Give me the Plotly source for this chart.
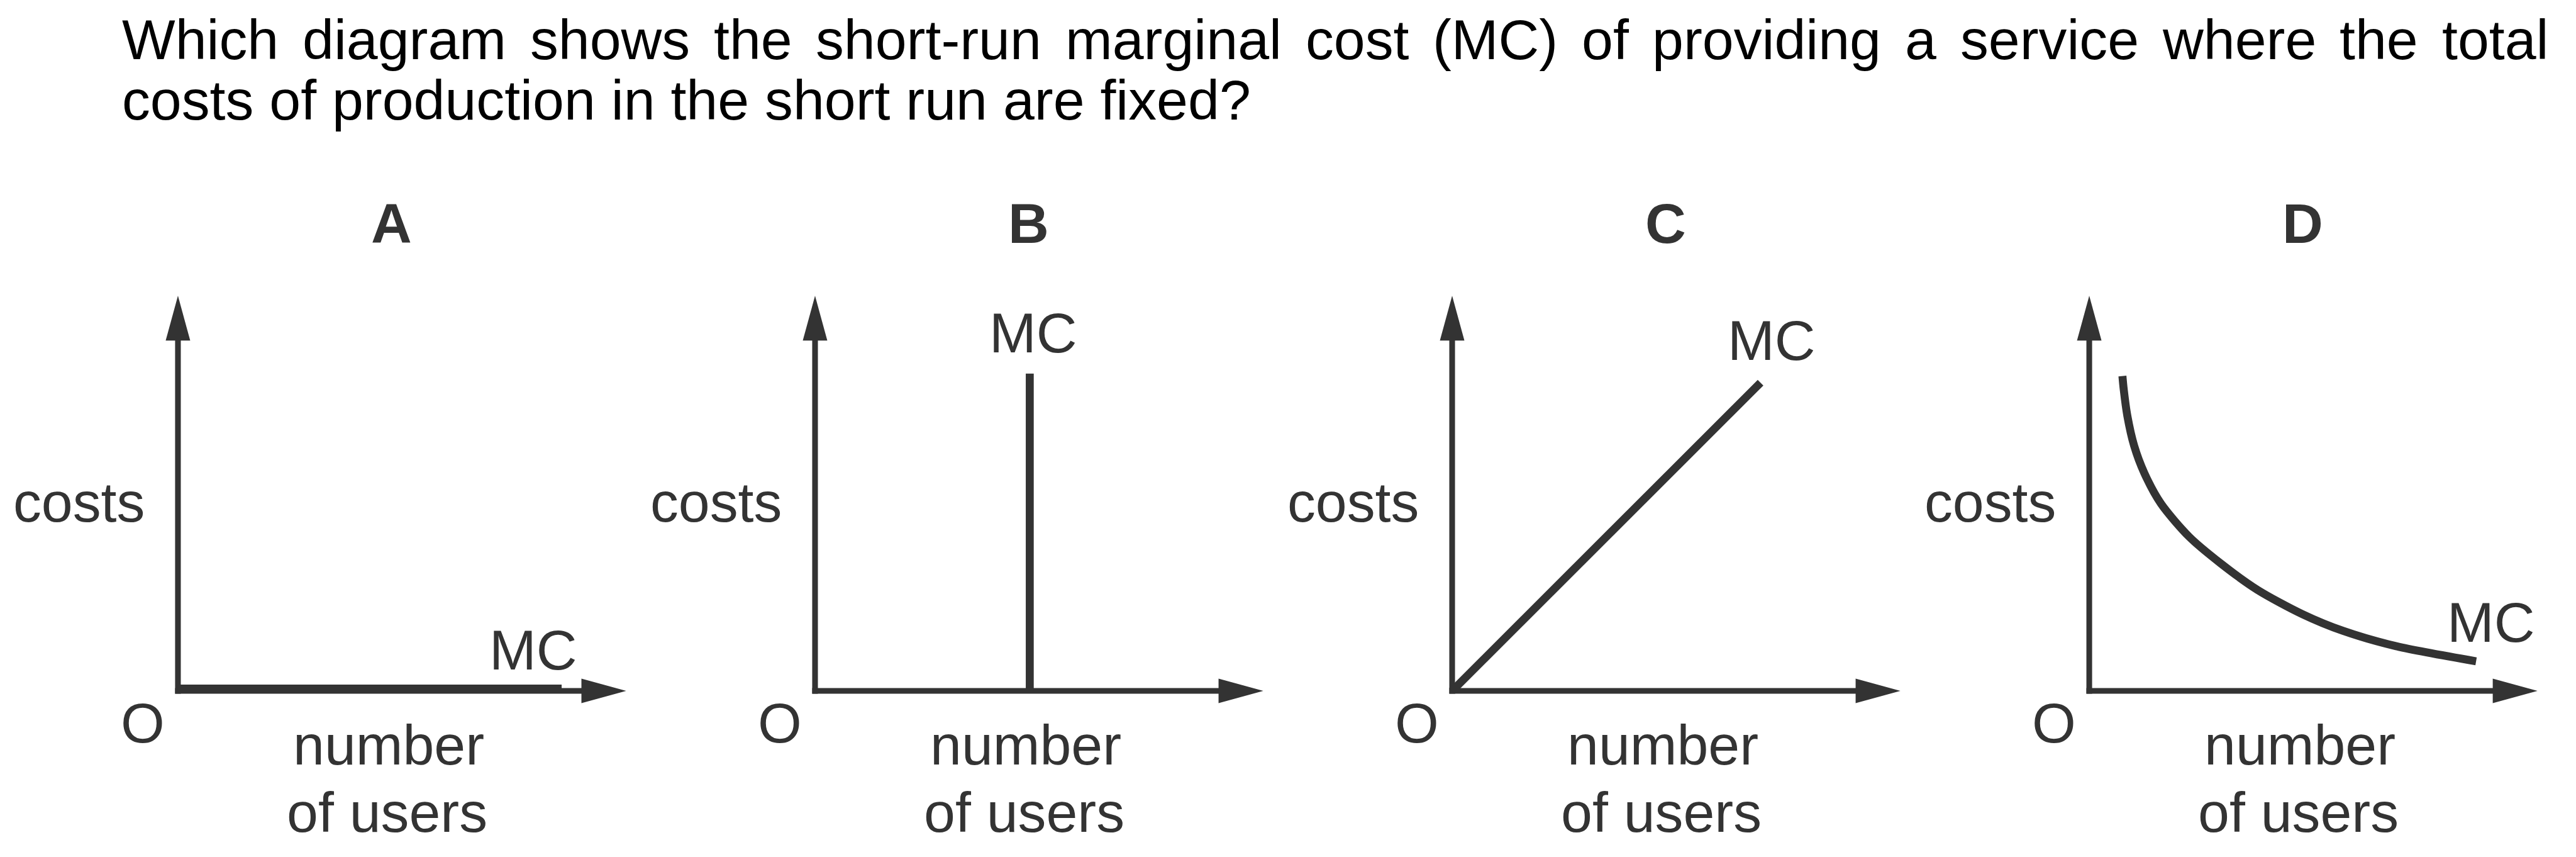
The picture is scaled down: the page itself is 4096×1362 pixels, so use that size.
import plotly.graph_objects as go

# ---------------- data (abstract units: each axis arrow is 10 units long) ----------------
panel_letters = ["A", "B", "C", "D"]
axis_len_x = 10.0
axis_len_y = 10.0

mc_a_x = [0.0, 8.56]
mc_a_y = [0.06, 0.06]

mc_b_x = [4.79, 4.79]
mc_b_y = [0.0, 8.03]

mc_c_x = [0.0, 6.88]
mc_c_y = [0.0, 7.80]

mc_d_x = [0.74, 0.77, 0.85, 1.00, 1.23, 1.60, 2.23, 2.93, 3.75, 4.76, 5.66, 6.85, 8.63]
mc_d_y = [7.97, 7.62, 6.96, 6.21, 5.51, 4.74, 3.90, 3.23, 2.56, 1.94, 1.52, 1.13, 0.75]

title_line1 = "Which diagram shows the short-run marginal cost (MC) of providing a service where the total"
title_line2 = "costs of production in the short run are fixed?"
y_label = "costs"
x_label_1 = "number"
x_label_2 = "of users"
origin_label = "O"
curve_label = "MC"

# ---------------- layout constants (reference pixel geometry) ----------------
S = 0.975
W_REF, H_REF = 4201, 1397
FIG_W, FIG_H = 4096, 1362
ORIGINS_X = [282, 1321, 2360, 3399]
ORIGIN_Y = 1118
UX = 73.1   # ref px per x unit
UY = 64.4   # ref px per y unit
INK = "#333333"
FONT = "Liberation Sans, Arial, Helvetica, sans-serif"
FS_REF = 92
FS = FS_REF * S
MID = 0.35 * FS_REF + 9  # baseline -> middle of text box

AXIS_LW_REF = 9.3
MC_LW_REF = 13
HEAD_LEN = 73
HEAD_HALF = 20

# text placement (ref px): offsets relative to panel origin, and baselines
LETTER_DX, LETTER_BASE = 348, 397
COSTS_DX, COSTS_BASE = -162, 852
O_DX, O_BASE = -57, 1212
NUM_DX, NUM_BASE = 344, 1247
USERS_DX, USERS_BASE = 341, 1357
MC_LABEL_POS = [(861, 1093), (1676, 576), (2881, 588), (4054, 1047)]

TITLE_X0, TITLE_X1 = 191, 4148
TITLE_BASE1, TITLE_BASE2 = 98, 196

ARIAL = {' ': 278, '(': 333, ')': 333, '-': 333, '?': 556, 'A': 667, 'C': 722, 'M': 833, 'W': 944,
         'a': 556, 'b': 556, 'c': 500, 'd': 556, 'e': 556, 'f': 278, 'g': 556, 'h': 556, 'i': 222,
         'j': 222, 'k': 500, 'l': 222, 'm': 833, 'n': 556, 'o': 556, 'p': 556, 'q': 556, 'r': 333,
         's': 500, 't': 278, 'u': 556, 'v': 500, 'w': 722, 'x': 500, 'y': 500, 'z': 500}


def text_w(s):
    return sum(ARIAL.get(c, 556) for c in s) / 1000.0 * FS_REF


xnames = ["x", "x2", "x3", "x4"]
mc_series = [(mc_a_x, mc_a_y), (mc_b_x, mc_b_y), (mc_c_x, mc_c_y), (mc_d_x, mc_d_y)]

fig = go.Figure()
annotations = []

axis_lw = AXIS_LW_REF * S
mc_lw = MC_LW_REF * S
hx = (AXIS_LW_REF / 2) / UX
hy = (AXIS_LW_REF / 2) / UY
head_lx = HEAD_LEN / UX
head_ly = HEAD_LEN / UY
half_x = HEAD_HALF / UX
half_y = HEAD_HALF / UY


def px_to_units(i, px, py):
    return (px - ORIGINS_X[i]) / UX, (ORIGIN_Y - py) / UY


for i, letter in enumerate(panel_letters):
    xn = xnames[i]
    common = dict(xaxis=xn, yaxis="y", hoverinfo="skip", showlegend=False)
    # x axis shaft
    fig.add_trace(go.Scatter(x=[-hx, axis_len_x - head_lx + 0.05], y=[0, 0], mode="lines",
                             line=dict(color=INK, width=axis_lw), **common))
    # y axis shaft
    fig.add_trace(go.Scatter(x=[0, 0], y=[-hy, axis_len_y - head_ly + 0.05], mode="lines",
                             line=dict(color=INK, width=axis_lw), **common))
    # arrowheads
    fig.add_trace(go.Scatter(x=[axis_len_x, axis_len_x - head_lx, axis_len_x - head_lx, axis_len_x],
                             y=[0, half_y, -half_y, 0], mode="lines", fill="toself",
                             fillcolor=INK, line=dict(color=INK, width=0), **common))
    fig.add_trace(go.Scatter(x=[0, -half_x, half_x, 0],
                             y=[axis_len_y, axis_len_y - head_ly, axis_len_y - head_ly, axis_len_y],
                             mode="lines", fill="toself",
                             fillcolor=INK, line=dict(color=INK, width=0), **common))
    # MC curve
    mx, my = mc_series[i]
    fig.add_trace(go.Scatter(x=mx, y=my, mode="lines",
                             line=dict(color=INK, width=mc_lw,
                                       shape="spline" if len(mx) > 2 else "linear", smoothing=0.8),
                             **common))

    def ann(text, dx, base, bold=False):
        ux, uy = px_to_units(i, ORIGINS_X[i] + dx, base - MID)
        t = f"<b>{text}</b>" if bold else text
        annotations.append(dict(x=ux, y=uy, xref=xn, yref="y", text=t, showarrow=False,
                                xanchor="center", yanchor="middle", borderpad=0, borderwidth=0,
                                font=dict(family=FONT, size=FS, color=INK)))

    ann(letter, LETTER_DX, LETTER_BASE, bold=True)
    ann(y_label, COSTS_DX, COSTS_BASE)
    ann(origin_label, O_DX, O_BASE)
    ann(x_label_1, NUM_DX, NUM_BASE)
    ann(x_label_2, USERS_DX, USERS_BASE)
    mcx, mcy = MC_LABEL_POS[i]
    ann(curve_label, mcx - ORIGINS_X[i], mcy)

# ---------------- title (justified first line) ----------------
words = title_line1.split(" ")
widths = [text_w(w) for w in words]
gap = (TITLE_X1 - TITLE_X0 - sum(widths)) / (len(words) - 1)
xpos = TITLE_X0
for w, wd in zip(words, widths):
    annotations.append(dict(x=xpos / W_REF, y=1 - (TITLE_BASE1 - MID) / H_REF, xref="paper", yref="paper",
                            text=w, showarrow=False, xanchor="left", yanchor="middle",
                            borderpad=0, borderwidth=0,
                            font=dict(family=FONT, size=FS, color="#000000")))
    xpos += wd + gap
annotations.append(dict(x=TITLE_X0 / W_REF, y=1 - (TITLE_BASE2 - MID) / H_REF, xref="paper", yref="paper",
                        text=title_line2, showarrow=False, xanchor="left", yanchor="middle",
                        borderpad=0, borderwidth=0,
                        font=dict(family=FONT, size=FS, color="#000000")))

layout_axes = {}
for i in range(4):
    key = "xaxis" if i == 0 else f"xaxis{i + 1}"
    d0, d1 = i / 4, (i + 1) / 4
    layout_axes[key] = dict(domain=[d0, d1],
                            range=[(d0 * W_REF - ORIGINS_X[i]) / UX, (d1 * W_REF - ORIGINS_X[i]) / UX],
                            visible=False, anchor="y", fixedrange=True)
layout_axes["yaxis"] = dict(domain=[0, 1], range=[(ORIGIN_Y - H_REF) / UY, ORIGIN_Y / UY],
                            visible=False, anchor="x", fixedrange=True)

fig.update_layout(width=FIG_W, height=FIG_H, margin=dict(l=0, r=0, t=0, b=0),
                  paper_bgcolor="white", plot_bgcolor="white", showlegend=False,
                  annotations=annotations, **layout_axes)

fig.write_html("out.html", config={"displayModeBar": False})
